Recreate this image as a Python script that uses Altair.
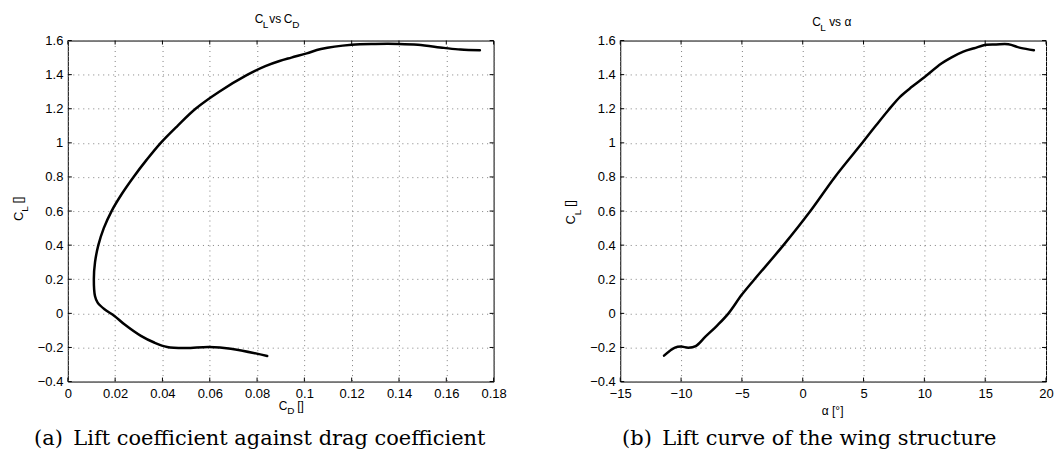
import altair as alt
import pandas as pd

# ---------------- data ----------------
# (a) drag polar: C_D vs C_L (ordered along the curve)
cd_values = [0.0843, 0.0689, 0.0597, 0.0499, 0.0420, 0.0365, 0.0309, 0.0239,
             0.0197, 0.0155, 0.0126, 0.0115, 0.0110, 0.0115, 0.0129, 0.0152,
             0.0185, 0.0228, 0.0278, 0.0333, 0.0393, 0.0464, 0.0540, 0.0640,
             0.0760, 0.0835, 0.0895, 0.0945, 0.1010, 0.1070, 0.1200,
             0.1300, 0.1400, 0.1480, 0.1590, 0.1660, 0.1742]
cl_polar = [-0.250, -0.207, -0.197, -0.203, -0.197, -0.171, -0.132, -0.064,
            -0.015, 0.024, 0.063, 0.100, 0.200, 0.300, 0.400, 0.500,
            0.600, 0.700, 0.800, 0.900, 1.000, 1.100, 1.200, 1.300,
            1.400, 1.450, 1.480, 1.500, 1.525, 1.550, 1.575,
            1.580, 1.580, 1.575, 1.557, 1.547, 1.543]

# (b) lift curve: alpha vs C_L
alpha_values = [-11.4, -10.5, -10.0, -9.4, -8.8, -8.0, -7.0, -6.1, -5.0, -3.96,
                -1.58, 0.63, 2.65, 4.9, 6.0, 7.02, 8.0, 9.0, 10.0, 11.4, 12.2,
                13.2, 14.1, 15.1, 15.9, 16.9, 17.9, 19.0]
cl_lift = [-0.248, -0.201, -0.195, -0.201, -0.192, -0.137, -0.069, 0.000,
           0.110, 0.200, 0.400, 0.600, 0.800, 1.000, 1.100, 1.190, 1.270,
           1.330, 1.385, 1.465, 1.500, 1.535, 1.555, 1.575, 1.577, 1.578,
           1.557, 1.543]

cd_ticks = [0, 0.02, 0.04, 0.06, 0.08, 0.1, 0.12, 0.14, 0.16, 0.18]
alpha_ticks = [-15, -10, -5, 0, 5, 10, 15, 20]
cl_ticks = [-0.4, -0.2, 0, 0.2, 0.4, 0.6, 0.8, 1, 1.2, 1.4, 1.6]

caption_a = "(a)\u2002Lift coefficient against drag coefficient"
caption_b = "(b)\u2002Lift curve of the wing structure"

# ---------------- layout / style ----------------
W, H = 427, 342
SANS = "Liberation Sans"
SERIF = "DejaVu Serif"


def txt(s, x, y, size=12, angle=0, align="left", font=SANS, color="black"):
    return alt.Chart(alt.Data(values=[{"k": 0}])).mark_text(
        text=s, font=font, fontSize=size, angle=angle, align=align,
        baseline="alphabetic", color=color
    ).encode(x=alt.value(x), y=alt.value(y))


yscale = alt.Scale(domain=[-0.4, 1.6], nice=False, zero=False)
yaxis = alt.Axis(values=cl_ticks, format="~g", title=None)


def panel(df, xf, xdom, xticks, texts):
    xscale = alt.Scale(domain=xdom, nice=False, zero=False)
    xaxis = alt.Axis(values=xticks, format="~g", title=None)
    X = alt.X(f"{xf}:Q", scale=xscale, axis=xaxis)
    Y = alt.Y("cl:Q", scale=yscale, axis=yaxis)
    line = alt.Chart(df).mark_line(
        color="black", strokeWidth=2.5, strokeJoin="round", strokeCap="round",
        interpolate="catmull-rom"
    ).encode(x=X, y=Y, order="i:Q")
    xt = pd.DataFrame({xf: xticks})
    yt = pd.DataFrame({"cl": cl_ticks})
    rule = dict(color="black", strokeWidth=1)
    tb = alt.Chart(xt).mark_rule(**rule).encode(x=X, y=alt.value(H), y2=alt.value(H - 4))
    tt = alt.Chart(xt).mark_rule(**rule).encode(x=X, y=alt.value(0), y2=alt.value(4))
    tl = alt.Chart(yt).mark_rule(**rule).encode(y=Y, x=alt.value(0), x2=alt.value(4))
    tr = alt.Chart(yt).mark_rule(**rule).encode(y=Y, x=alt.value(W), x2=alt.value(W - 4))
    return alt.layer(line, tb, tt, tl, tr, *texts).properties(width=W, height=H)


def ylabel(dy):
    return [
        txt("C", -45, 182.7 + dy, 13, angle=270),
        txt("L", -39.5, 173.5 + dy, 10, angle=270),
        txt("[]", -46, 165 + dy, 12, angle=270),
    ]


df_a = pd.DataFrame({"cd": cd_values, "cl": cl_polar, "i": range(len(cd_values))})
df_b = pd.DataFrame({"alpha": alpha_values, "cl": cl_lift, "i": range(len(alpha_values))})

da = -1.7   # left panel text offset (plot sits 1.7px lower than in reference)
db = 1.7    # right panel text offset (plot sits 1.7px higher than in reference)

texts_a = [
    txt("C", 187.5, -16 + da, 12), txt("L", 195.5, -11 + da, 10),
    txt("vs", 202, -16 + da, 12), txt("C", 216.5, -16 + da, 12),
    txt("D", 225, -11 + da, 10),
    txt("C", 211.5, H + 30.5 + da, 12), txt("D", 220, H + 34.5 + da, 10),
    txt("[]", 230, H + 30.5 + da, 12),
    txt(caption_a, 192.5, 407.7 + da, 21, align="center", font=SERIF),
] + ylabel(da)

texts_b = [
    txt("C", 192.5, -16 + db, 12), txt("L", 200.5, -11 + db, 10),
    txt("vs \u03b1", 209.5, -16 + db, 12),
    txt("\u03b1 [\u00b0]", 213, H + 32 + db, 12, align="center"),
    txt(caption_b, 189.5, 404.3 + db, 21, align="center", font=SERIF),
] + ylabel(db)

left = panel(df_a, "cd", [0, 0.18], cd_ticks, texts_a)
right = panel(df_b, "alpha", [-15, 20], alpha_ticks, texts_b)

chart = alt.hconcat(left, right, spacing=56).properties(
    padding={"left": 3, "top": 3, "right": 0, "bottom": 0}
).configure_view(
    stroke="black", strokeWidth=1
).configure_axis(
    domain=False, ticks=False, labelFont=SANS, labelFontSize=13,
    labelColor="black", labelFlush=False, labelOverlap=False,
    gridColor="#808080", gridDash=[1, 4], gridWidth=1
).configure_axisX(labelPadding=6).configure_axisY(labelPadding=5)

chart.save("out.html", embed_options={"renderer": "svg", "actions": False})
